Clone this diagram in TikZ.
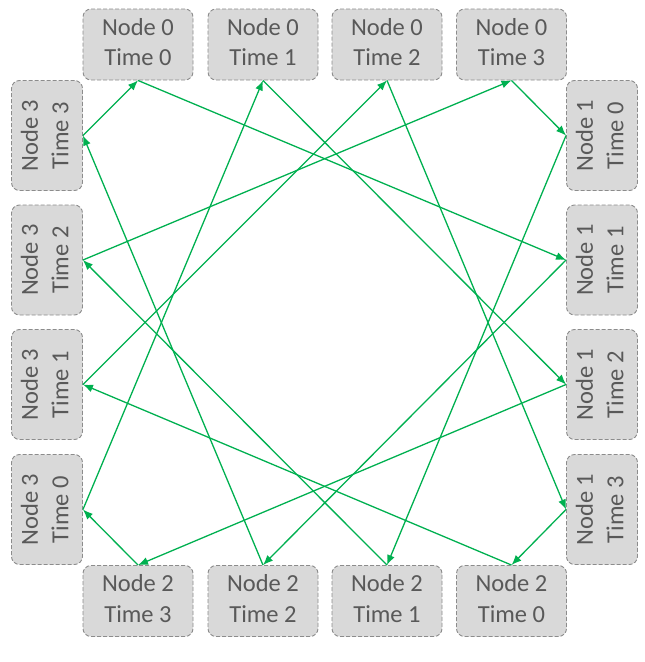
\documentclass[tikz,border=0pt]{standalone}
\usepackage{fontspec}
\setmainfont{Carlito}
\usetikzlibrary{arrows.meta}
\definecolor{boxfill}{HTML}{D9D9D9}
\definecolor{boxline}{HTML}{8C8C8C}
\definecolor{txt}{HTML}{595959}
\definecolor{arr}{HTML}{00B050}
\newcommand\twoline[2]{\begin{tabular}{@{}c@{}}#1\\#2\end{tabular}}
\newcommand\vtwoline[2]{\rotatebox{90}{\twoline{#1}{#2}}}
\tikzset{
  hbox/.style={draw=boxline, fill=boxfill, dash pattern=on 4pt off 2pt, line width=0.9pt, rounded corners=8pt,
    minimum width=110pt, minimum height=71pt, inner sep=0pt, text=txt,
    font=\fontsize{24.5}{30.5}\selectfont},
  vbox/.style={hbox, minimum width=71pt, minimum height=110pt},
  link/.style={draw=arr, line width=1.3pt, -{Latex[length=10pt,width=8pt]}}
}
\begin{document}
\begin{tikzpicture}[x=1pt,y=-1pt]
\useasboundingbox (0,0) rectangle (645,662);
% top row: Node 0
\node[hbox] (a0) at (138,44.5) {\twoline{Node 0}{Time 0}};
\node[hbox] (a1) at (263,44.5) {\twoline{Node 0}{Time 1}};
\node[hbox] (a2) at (387,44.5) {\twoline{Node 0}{Time 2}};
\node[hbox] (a3) at (511.5,44.5) {\twoline{Node 0}{Time 3}};
% right column: Node 1
\node[vbox] (b0) at (602,135.5) {\vtwoline{Node 1}{Time 0}};
\node[vbox] (b1) at (602,260) {\vtwoline{Node 1}{Time 1}};
\node[vbox] (b2) at (602,384.5) {\vtwoline{Node 1}{Time 2}};
\node[vbox] (b3) at (602,509.5) {\vtwoline{Node 1}{Time 3}};
% bottom row: Node 2
\node[hbox] (c0) at (511.5,601) {\twoline{Node 2}{Time 0}};
\node[hbox] (c1) at (387,601) {\twoline{Node 2}{Time 1}};
\node[hbox] (c2) at (263,601) {\twoline{Node 2}{Time 2}};
\node[hbox] (c3) at (138,601) {\twoline{Node 2}{Time 3}};
% left column: Node 3
\node[vbox] (d0) at (47,509.5) {\vtwoline{Node 3}{Time 0}};
\node[vbox] (d1) at (47,384.5) {\vtwoline{Node 3}{Time 1}};
\node[vbox] (d2) at (47,260) {\vtwoline{Node 3}{Time 2}};
\node[vbox] (d3) at (47,135.5) {\vtwoline{Node 3}{Time 3}};
% links: Node k Time t -> Node k+1 Time t+1
\draw[link] (a0.south) -- (b1.west);
\draw[link] (a1.south) -- (b2.west);
\draw[link] (a2.south) -- (b3.west);
\draw[link] (a3.south) -- (b0.west);
\draw[link] (b0.west) -- (c1.north);
\draw[link] (b1.west) -- (c2.north);
\draw[link] (b2.west) -- (c3.north);
\draw[link] (b3.west) -- (c0.north);
\draw[link] (c0.north) -- (d1.east);
\draw[link] (c1.north) -- (d2.east);
\draw[link] (c2.north) -- (d3.east);
\draw[link] (c3.north) -- (d0.east);
\draw[link] (d0.east) -- (a1.south);
\draw[link] (d1.east) -- (a2.south);
\draw[link] (d2.east) -- (a3.south);
\draw[link] (d3.east) -- (a0.south);
\end{tikzpicture}
\end{document}
